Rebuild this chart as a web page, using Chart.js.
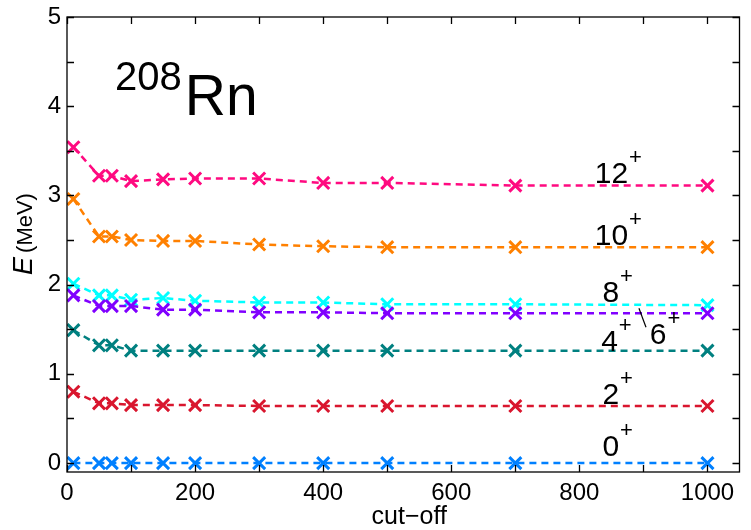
<!DOCTYPE html>
<html>
<head>
<meta charset="utf-8">
<script src="https://cdn.jsdelivr.net/npm/chart.js@4.4.1/dist/chart.umd.min.js"></script>
<style>
  html, body { margin: 0; padding: 0; background: #fff; }
  canvas { display: block; }
</style>
</head>
<body>
<canvas id="levels" width="751" height="530"></canvas>
<script>
// cut-off values and level energies (MeV) for 208Rn
const cutoff = [10, 50, 70, 100, 150, 200, 300, 400, 500, 700, 1000];
const e0  = [0, 0, 0, 0, 0, 0, 0, 0, 0, 0, 0];
const e2  = [0.80, 0.67, 0.67, 0.65, 0.65, 0.65, 0.64, 0.64, 0.64, 0.64, 0.64];
const e4  = [1.49, 1.32, 1.32, 1.26, 1.26, 1.26, 1.26, 1.26, 1.26, 1.26, 1.26];
const e6  = [1.88, 1.76, 1.76, 1.76, 1.72, 1.72, 1.69, 1.69, 1.68, 1.68, 1.68];
const e8  = [2.01, 1.88, 1.88, 1.83, 1.85, 1.82, 1.80, 1.80, 1.78, 1.78, 1.77];
const e10 = [2.96, 2.54, 2.54, 2.50, 2.49, 2.49, 2.45, 2.43, 2.42, 2.42, 2.42];
const e12 = [3.54, 3.22, 3.22, 3.16, 3.18, 3.19, 3.19, 3.14, 3.14, 3.11, 3.11];

const xTicks = [0, 100, 200, 300, 400, 500, 600, 700, 800, 900, 1000];
const yTicks = [0, 0.5, 1, 1.5, 2, 2.5, 3, 3.5, 4, 4.5, 5];

const levelNames = ['0', '2', '4', '6', '8', '10', '12'];
const levelColors = ['#0080ff', '#d9162e', '#008080', '#8000ff', '#00ffff', '#ff8000', '#ff0a80'];
const series = [e0, e2, e4, e6, e8, e10, e12];

const FONT = '"Liberation Sans", Arial, Helvetica, sans-serif';

function toPoints(ys) {
    return cutoff.map((x, i) => ({ x: x, y: ys[i] }));
}

// where the spin labels sit, in data units (left edge, baseline)
const tagPlaces = {
    '12': [824, 3.14], '10': [824, 2.44], '8': [836, 1.80],
    '4': [834, 1.26], '6': [910, 1.34], '2': [836, 0.66], '0': [836, 0.075]
};

const framePlugin = {
    id: 'frame',
    afterDatasetsDraw(chart) {
        const ctx = chart.ctx;
        const a = chart.chartArea;
        const xs = chart.scales.x;
        const ys = chart.scales.y;
        ctx.save();

        // box and inward ticks
        ctx.strokeStyle = '#000';
        ctx.lineWidth = 1.3;
        ctx.strokeRect(a.left, a.top, a.right - a.left, a.bottom - a.top);
        ctx.beginPath();
        xTicks.forEach(v => {
            const p = Math.round(xs.getPixelForValue(v)) + 0.5;
            ctx.moveTo(p, a.bottom); ctx.lineTo(p, a.bottom - 7);
            ctx.moveTo(p, a.top); ctx.lineTo(p, a.top + 7);
        });
        yTicks.forEach(v => {
            const p = Math.round(ys.getPixelForValue(v)) + 0.5;
            ctx.moveTo(a.left, p); ctx.lineTo(a.left + 7, p);
            ctx.moveTo(a.right, p); ctx.lineTo(a.right - 7, p);
        });
        ctx.stroke();

        // spin labels
        ctx.fillStyle = '#000';
        ctx.textBaseline = 'alphabetic';
        ctx.textAlign = 'left';
        levelNames.forEach(name => {
            const [dx, dy] = tagPlaces[name];
            const px = xs.getPixelForValue(dx);
            const py = ys.getPixelForValue(dy);
            ctx.font = '30px ' + FONT;
            ctx.fillText(name, px, py);
            const w = ctx.measureText(name).width;
            ctx.font = '22px ' + FONT;
            ctx.fillText('+', px + w + 1, py - 19);
        });

        // little leader line for 6+
        ctx.lineWidth = 1.2;
        ctx.beginPath();
        ctx.moveTo(xs.getPixelForValue(893), ys.getPixelForValue(1.736));
        ctx.lineTo(xs.getPixelForValue(904), ys.getPixelForValue(1.523));
        ctx.stroke();

        // nucleus name
        const nx = xs.getPixelForValue(75);
        ctx.font = '40px ' + FONT;
        ctx.fillText('208', nx, ys.getPixelForValue(4.18));
        const nw = ctx.measureText('208').width;
        ctx.font = '57px ' + FONT;
        ctx.fillText('Rn', nx + nw + 3, ys.getPixelForValue(3.9));

        // axis titles
        ctx.font = '25px ' + FONT;
        ctx.textAlign = 'center';
        ctx.fillText('cut\u2212off', (a.left + a.right) / 2 + 6, 524);

        ctx.translate(32, 234);
        ctx.rotate(-Math.PI / 2);
        ctx.textAlign = 'left';
        ctx.font = 'italic 27px ' + FONT;
        const eW = ctx.measureText('E').width;
        ctx.font = '22px ' + FONT;
        const mW = ctx.measureText('(MeV)').width;
        const start = -(eW + 4 + mW) / 2;
        ctx.font = 'italic 27px ' + FONT;
        ctx.fillText('E', start, 0);
        ctx.font = '22px ' + FONT;
        ctx.fillText('(MeV)', start + eW + 4, 0);

        ctx.restore();
    }
};

const chart = new Chart(document.getElementById('levels').getContext('2d'), {
    type: 'scatter',
    data: {
        datasets: series.map((ys, i) => ({
            label: levelNames[i] + '+',
            data: toPoints(ys),
            showLine: true,
            borderColor: levelColors[i],
            backgroundColor: levelColors[i],
            borderWidth: 2.5,
            borderDash: [7, 5],
            pointStyle: 'crossRot',
            pointRadius: 8.5,
            pointBorderWidth: 3,
            pointBorderColor: levelColors[i],
            tension: 0
        }))
    },
    options: {
        responsive: false,
        animation: false,
        layout: { padding: { left: 0, top: 17, right: -3, bottom: 0 } },
        plugins: {
            legend: { display: false },
            tooltip: { enabled: false }
        },
        scales: {
            x: {
                type: 'linear',
                min: 0,
                max: 1050,
                afterBuildTicks: s => { s.ticks = xTicks.map(v => ({ value: v })); },
                afterFit: s => { s.height = 58; s.paddingLeft = 0; s.paddingRight = 0; },
                grid: { display: false, drawTicks: false },
                border: { display: false },
                ticks: {
                    autoSkip: false,
                    maxRotation: 0,
                    padding: 7,
                    color: '#000',
                    font: { family: FONT, size: 24 },
                    callback: v => (v % 200 === 0 ? v : '')
                }
            },
            y: {
                type: 'linear',
                min: -0.1,
                max: 5,
                afterBuildTicks: s => { s.ticks = yTicks.map(v => ({ value: v })); },
                afterFit: s => { s.width = 67; s.paddingTop = 0; s.paddingBottom = 0; },
                grid: { display: false, drawTicks: false },
                border: { display: false },
                ticks: {
                    autoSkip: false,
                    padding: 6,
                    color: '#000',
                    font: { family: FONT, size: 24 },
                    callback: v => (Number.isInteger(v) ? v : '')
                }
            }
        }
    },
    plugins: [framePlugin]
});
</script>
</body>
</html>
